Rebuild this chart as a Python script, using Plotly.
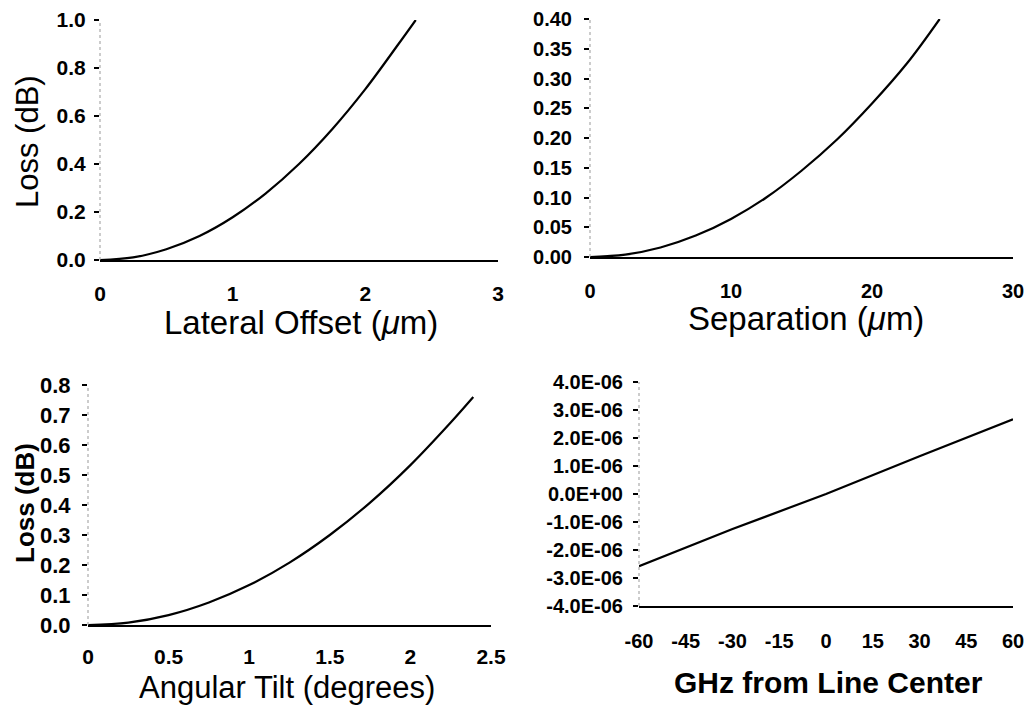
import plotly.graph_objects as go

W, H = 1033, 708

# ---- data ----
lat_x = [0, 0.25, 0.5, 0.75, 1.0, 1.25, 1.5, 1.75, 2.0, 2.25, 2.38]
lat_y = [0, 0.011, 0.045, 0.10, 0.178, 0.278, 0.40, 0.545, 0.712, 0.90, 1.0]

sep_x = [0, 2.5, 5, 7.5, 10, 12.5, 15, 17.5, 20, 22.5, 24.8]
sep_y = [0, 0.004, 0.016, 0.036, 0.064, 0.100, 0.145, 0.197, 0.258, 0.326, 0.400]

tilt_x = [0, 0.25, 0.5, 0.75, 1.0, 1.25, 1.5, 1.75, 2.0, 2.25, 2.39]
tilt_y = [0, 0.008, 0.033, 0.075, 0.133, 0.208, 0.30, 0.408, 0.533, 0.675, 0.76]

ghz_x = [-60, -30, 0, 30, 60]
ghz_y = [-2.58e-6, -1.25e-6, 0.0, 1.35e-6, 2.67e-6]

ghz_yticks = [-4e-6, -3e-6, -2e-6, -1e-6, 0, 1e-6, 2e-6, 3e-6, 4e-6]
ghz_yticktext = ["-4.0E-06", "-3.0E-06", "-2.0E-06", "-1.0E-06", "0.0E+00",
                 "1.0E-06", "2.0E-06", "3.0E-06", "4.0E-06"]
ghz_xticks = [-60, -45, -30, -15, 0, 15, 30, 45, 60]
ghz_xticktext = ["-60", "-45", "-30", "-15", "0", "15", "30", "45", "60"]

FONT = "Arial, Liberation Sans, sans-serif"


def px_x(p):
    return p / W


def px_y(p):
    return 1 - p / H


fig = go.Figure()
line = dict(color="black", width=2.2, shape="spline", smoothing=1.0)
fig.add_trace(go.Scatter(x=lat_x, y=lat_y, mode="lines", line=line, xaxis="x", yaxis="y"))
fig.add_trace(go.Scatter(x=sep_x, y=sep_y, mode="lines", line=line, xaxis="x2", yaxis="y2"))
fig.add_trace(go.Scatter(x=tilt_x, y=tilt_y, mode="lines", line=line, xaxis="x3", yaxis="y3"))
fig.add_trace(go.Scatter(x=ghz_x, y=ghz_y, mode="lines", line=dict(color="black", width=2.2),
                         xaxis="x4", yaxis="y4"))

# panel pixel boxes: (left, right, top, bottom)
boxes = {
    1: (100, 498, 20, 260),
    2: (590, 1013, 19, 257),
    3: (88, 491, 385, 625),
    4: (639, 1013, 382, 606),
}


def xaxis(n, rng, size, standoff, **kw):
    l, r, t, b = boxes[n]
    d = dict(domain=[px_x(l), px_x(r)], range=rng, anchor="y" if n == 1 else f"y{n}",
             automargin=False,
             showgrid=False, zeroline=False, showline=True, linecolor="black", linewidth=2,
             ticks="", tickfont=dict(family=FONT, size=size, color="black", weight="bold"),
             ticklabelstandoff=standoff)
    d.update(kw)
    return d


def yaxis(n, rng, size, standoff, **kw):
    l, r, t, b = boxes[n]
    d = dict(domain=[px_y(b), px_y(t)], range=rng, anchor="x" if n == 1 else f"x{n}",
             automargin=False,
             showgrid=False, zeroline=False, showline=False,
             ticks="outside", ticklen=5, tickwidth=2, tickcolor="black",
             tickfont=dict(family=FONT, size=size, color="black", weight="bold"),
             ticklabelstandoff=standoff)
    d.update(kw)
    return d


fig.update_layout(
    width=W, height=H, margin=dict(l=0, r=0, t=0, b=0, autoexpand=False),
    paper_bgcolor="white", plot_bgcolor="white", showlegend=False,
    xaxis=xaxis(1, [0, 3], 21, 14, tickvals=[0, 1, 2, 3]),
    yaxis=yaxis(1, [0, 1.0], 21, 4, tickvals=[0, 0.2, 0.4, 0.6, 0.8, 1.0], tickformat=".1f"),
    xaxis2=xaxis(2, [0, 30], 20, 15, tickvals=[0, 10, 20, 30]),
    yaxis2=yaxis(2, [0, 0.40], 20, 8, tickvals=[0, 0.05, 0.10, 0.15, 0.20, 0.25, 0.30, 0.35, 0.40], tickformat=".2f"),
    xaxis3=xaxis(3, [0, 2.5], 21, 12, tickvals=[0, 0.5, 1, 1.5, 2, 2.5]),
    yaxis3=yaxis(3, [0, 0.8], 22, 7, tickvals=[0, 0.1, 0.2, 0.3, 0.4, 0.5, 0.6, 0.7, 0.8], tickformat=".1f"),
    xaxis4=xaxis(4, [-60, 60], 20, 16, tickvals=ghz_xticks, ticktext=ghz_xticktext),
    yaxis4=yaxis(4, [-4e-6, 4e-6], 20, 6, tickvals=ghz_yticks, ticktext=ghz_yticktext),
)

# faint dotted y-axis lines
for n in range(1, 5):
    xr = "x" if n == 1 else f"x{n}"
    yr = "y" if n == 1 else f"y{n}"
    fig.add_shape(type="line", xref=f"{xr} domain", yref=f"{yr} domain",
                  x0=0, x1=0, y0=0, y1=1, line=dict(color="#999999", width=1, dash="dot"))

# text, x px, y px (middle), angle, size, weight
titles = [
    ("Lateral Offset (<i>μ</i>m)", 301, 322, 0, 33, "normal"),
    ("Loss (dB)", 27, 142, -90, 31, "normal"),
    ("Separation (<i>μ</i>m)", 806, 318, 0, 33, "normal"),
    ("Angular Tilt (degrees)", 287, 687, 0, 31, "normal"),
    ("Loss (dB)", 25, 503, -90, 26, "bold"),
    ("GHz from Line Center", 828, 682, 0, 30, "bold"),
]
for text, x, y, ang, size, wt in titles:
    fig.add_annotation(text=text, x=px_x(x), y=px_y(y), xref="paper", yref="paper",
                       xanchor="center", yanchor="middle", textangle=ang, showarrow=False,
                       borderpad=0,
                       font=dict(family=FONT, size=size, color="black", weight=wt))

fig.write_html("out.html")
